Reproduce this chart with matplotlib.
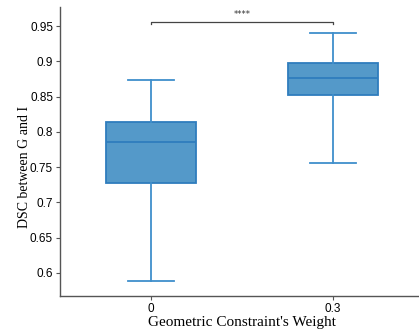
import matplotlib.pyplot as plt

# data
categories = ["0", "0.3"]
whislo = [0.588, 0.756]
q1 = [0.727, 0.852]
med = [0.785, 0.876]
q3 = [0.814, 0.897]
whishi = [0.874, 0.940]
yticks = [0.6, 0.65, 0.7, 0.75, 0.8, 0.85, 0.9, 0.95]
sig_label = "****"

fill_color = "#5499c9"
edge_color = "#2f7dbd"
line_color = "#3f8fcc"

W, H = 419, 332
fig = plt.figure(figsize=(W / 100, H / 100), dpi=100)
# axes runs past the right edge, as in the cropped reference
ax = fig.add_axes([60 / W, (H - 296) / H, 364 / W, 289 / H])

stats = []
for i, c in enumerate(categories):
    stats.append(dict(label=c, whislo=whislo[i], q1=q1[i], med=med[i],
                      q3=q3[i], whishi=whishi[i], fliers=[]))

ax.bxp(stats, positions=range(len(categories)), widths=0.49,
       patch_artist=True, showfliers=False,
       boxprops=dict(facecolor=fill_color, edgecolor=edge_color, linewidth=1.3),
       medianprops=dict(color=edge_color, linewidth=1.3),
       whiskerprops=dict(color=line_color, linewidth=1.3),
       capprops=dict(color=line_color, linewidth=1.3),
       capwidths=0.25)

ax.set_xlim(-0.5, 1.5)
ax.set_ylim(0.5674, 0.977)
ax.set_yticks(yticks)
ax.set_yticklabels([f"{t:g}" for t in yticks])
ax.set_xticks(range(len(categories)))
ax.set_xticklabels(categories)

for s in ["top", "right"]:
    ax.spines[s].set_visible(False)
for s in ["left", "bottom"]:
    ax.spines[s].set_color("#555555")
    ax.spines[s].set_linewidth(1.0)
ax.tick_params(labelsize=8.5, length=3, width=0.8, color="#555555", pad=2)
for lab in ax.get_xticklabels() + ax.get_yticklabels():
    lab.set_fontfamily("Liberation Sans")

# significance bracket
y_br = 0.9555
ax.plot([0, 0, 1, 1], [y_br - 0.002, y_br, y_br, y_br - 0.002],
        color="#444444", linewidth=0.9, clip_on=False)
ax.text(0.5, y_br + 0.004, sig_label, ha="center", va="bottom",
        fontsize=6, color="#333333")

ax.set_ylabel("DSC between G and I", fontfamily="Liberation Serif",
              fontsize=10)
ax.yaxis.set_label_coords(-0.079, 0.446)
ax.set_xlabel("Geometric Constraint's Weight", fontfamily="Liberation Serif",
              fontsize=11, labelpad=1)

fig.savefig("out.png", dpi=100)
